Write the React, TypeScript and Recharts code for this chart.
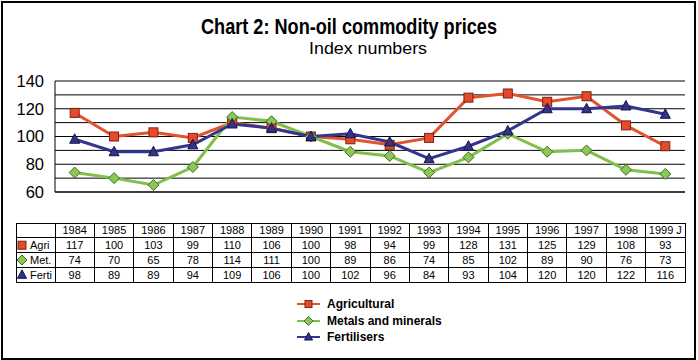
import { LineChart, Line, XAxis, YAxis, CartesianGrid, Legend } from "recharts";

const years = ["1984", "1985", "1986", "1987", "1988", "1989", "1990", "1991", "1992", "1993", "1994", "1995", "1996", "1997", "1998", "1999 J"];
const agri = [117, 100, 103, 99, 110, 106, 100, 98, 94, 99, 128, 131, 125, 129, 108, 93];
const metals = [74, 70, 65, 78, 114, 111, 100, 89, 86, 74, 85, 102, 89, 90, 76, 73];
const ferti = [98, 89, 89, 94, 109, 106, 100, 102, 96, 84, 93, 104, 120, 120, 122, 116];
const yTicks = [60, 70, 80, 90, 100, 110, 120, 130, 140];

const FONT = "'Liberation Sans', Arial, sans-serif";
const W = 698;
const H = 360;
const PLOT_LEFT = 55;
const PLOT_RIGHT = 685;
const PLOT_TOP = 81;
const PLOT_BOTTOM = 192;
const COL_W = (PLOT_RIGHT - PLOT_LEFT) / years.length;
const TABLE_GAP = 31; // from plot bottom to table top
const ROW_H = 14.8;
const X_AXIS_H = 100;

type Shape = "square" | "diamond" | "triangle";

const series = [
  { key: "agri", name: "Agricultural", short: "Agri", values: agri, line: "#e2532c", fill: "#e8492a", edge: "#7a2412", shape: "square" as Shape },
  { key: "met", name: "Metals and minerals", short: "Met.", values: metals, line: "#7fc04a", fill: "#8cc657", edge: "#3f6d22", shape: "diamond" as Shape },
  { key: "ferti", name: "Fertilisers", short: "Ferti", values: ferti, line: "#34358f", fill: "#333388", edge: "#15154a", shape: "triangle" as Shape },
];

const data = years.map((year, i) => ({
  year,
  agri: agri[i],
  met: metals[i],
  ferti: ferti[i],
}));

function Marker({ cx, cy, shape, fill, edge, size }: { cx: number; cy: number; shape: Shape; fill: string; edge: string; size: number }) {
  if (cx == null || cy == null) return null;
  const h = size / 2;
  if (shape === "square") {
    return <rect x={cx - h} y={cy - h} width={size} height={size} fill={fill} stroke={edge} strokeWidth={1} />;
  }
  if (shape === "diamond") {
    return (
      <polygon
        points={`${cx},${cy - h - 1} ${cx + h + 1},${cy} ${cx},${cy + h + 1} ${cx - h - 1},${cy}`}
        fill={fill}
        stroke={edge}
        strokeWidth={1}
      />
    );
  }
  return (
    <polygon
      points={`${cx},${cy - h - 1} ${cx + h + 0.5},${cy + h - 0.5} ${cx - h - 0.5},${cy + h - 0.5}`}
      fill={fill}
      stroke={edge}
      strokeWidth={1}
    />
  );
}

// Each x tick draws one column of the data table under the plot
function TableColumn(props: any) {
  const { x, y, payload, index } = props;
  const i = payload?.index ?? index;
  const left = x - COL_W / 2;
  const top = y + TABLE_GAP;
  const rows = [years[i], ...series.map((s) => String(s.values[i]))];
  return (
    <g shapeRendering="crispEdges">
      {i === 0 && (
        <g>
          {rows.map((_, r) => (
            <rect key={r} x={16} y={top + r * ROW_H} width={left - 16} height={ROW_H} fill="#fff" stroke="#000" strokeWidth={1} />
          ))}
          {series.map((s, r) => (
            <g key={s.key}>
              <g shapeRendering="auto">
                <Marker cx={22} cy={top + (r + 1.5) * ROW_H} shape={s.shape} fill={s.fill} edge={s.edge} size={8} />
              </g>
              <text x={30} y={top + (r + 1.5) * ROW_H + 4} fontSize={11} fontFamily={FONT} fill="#000">
                {s.short}
              </text>
            </g>
          ))}
        </g>
      )}
      {rows.map((txt, r) => (
        <g key={r}>
          <rect x={left} y={top + r * ROW_H} width={COL_W} height={ROW_H} fill="#fff" stroke="#000" strokeWidth={1} />
          <text x={x} y={top + (r + 0.5) * ROW_H + 4} textAnchor="middle" fontSize={11} fontFamily={FONT} fill="#000">
            {txt}
          </text>
        </g>
      ))}
    </g>
  );
}

function LegendBox() {
  return (
    <div style={{ fontFamily: FONT, fontSize: 12, fontWeight: "bold", color: "#000" }}>
      {series.map((s) => (
        <div key={s.key} style={{ display: "flex", alignItems: "center", height: 16.5 }}>
          <svg width={26} height={12} style={{ marginRight: 5 }}>
            <line x1={1} y1={6} x2={24} y2={6} stroke={s.line} strokeWidth={2} />
            <Marker cx={12.5} cy={6} shape={s.shape} fill={s.fill} edge={s.edge} size={7} />
          </svg>
          <span>{s.name}</span>
        </div>
      ))}
    </div>
  );
}

export default function App() {
  return (
    <div style={{ position: "absolute", left: 0, top: 0, width: W, height: H, background: "#fff" }}>
      <LineChart
        width={W}
        height={H}
        data={data}
        margin={{ top: PLOT_TOP, left: 10, right: W - PLOT_RIGHT, bottom: H - PLOT_BOTTOM - X_AXIS_H }}
      >
        <CartesianGrid vertical={false} stroke="#000" strokeWidth={1} fill="#fff" strokeOpacity={1} />
        <XAxis
          dataKey="year"
          interval={0}
          height={X_AXIS_H}
          padding={{ left: COL_W / 2, right: COL_W / 2 }}
          tickLine={false}
          tickSize={0}
          tickMargin={0}
          axisLine={{ stroke: "#000" }}
          tick={<TableColumn />}
        />
        <YAxis
          width={45}
          domain={[60, 140]}
          ticks={yTicks}
          interval={0}
          tickLine={false}
          tickSize={0}
          tickMargin={11}
          axisLine={{ stroke: "#000" }}
          tickFormatter={(v: number) => (v % 20 === 0 ? String(v) : "")}
          tick={{ fontSize: 16.5, fill: "#000", fontFamily: FONT }}
        />
        <YAxis
          yAxisId="r"
          orientation="right"
          width={0}
          domain={[60, 140]}
          tick={false}
          tickLine={false}
          axisLine={{ stroke: "#000" }}
        />
        {series.map((s) => (
          <Line
            key={s.key}
            dataKey={s.key}
            name={s.name}
            stroke={s.line}
            strokeWidth={3}
            isAnimationActive={false}
            dot={(p: any) => (
              <Marker key={`${s.key}-${p.index}`} cx={p.cx} cy={p.cy} shape={s.shape} fill={s.fill} edge={s.edge} size={9} />
            )}
            activeDot={false}
          />
        ))}
        <Legend
          layout="vertical"
          align="center"
          verticalAlign="middle"
          content={() => <LegendBox />}
          wrapperStyle={{ position: "absolute", left: 296, top: 296, width: 220, margin: 0 }}
        />
      </LineChart>
      <svg width={W} height={H} style={{ position: "absolute", left: 0, top: 0, pointerEvents: "none" }}>
        <rect x={2} y={2} width={693} height={357} fill="none" stroke="#000" strokeWidth={2} />
        <text x={349} y={34} textAnchor="middle" fontFamily={FONT} fontWeight="bold" fontSize={22} textLength={296} lengthAdjust="spacingAndGlyphs" fill="#000">
          Chart 2: Non-oil commodity prices
        </text>
        <text x={368} y={54} textAnchor="middle" fontFamily={FONT} fontSize={17} textLength={118} lengthAdjust="spacingAndGlyphs" fill="#000">
          Index numbers
        </text>
      </svg>
    </div>
  );
}
